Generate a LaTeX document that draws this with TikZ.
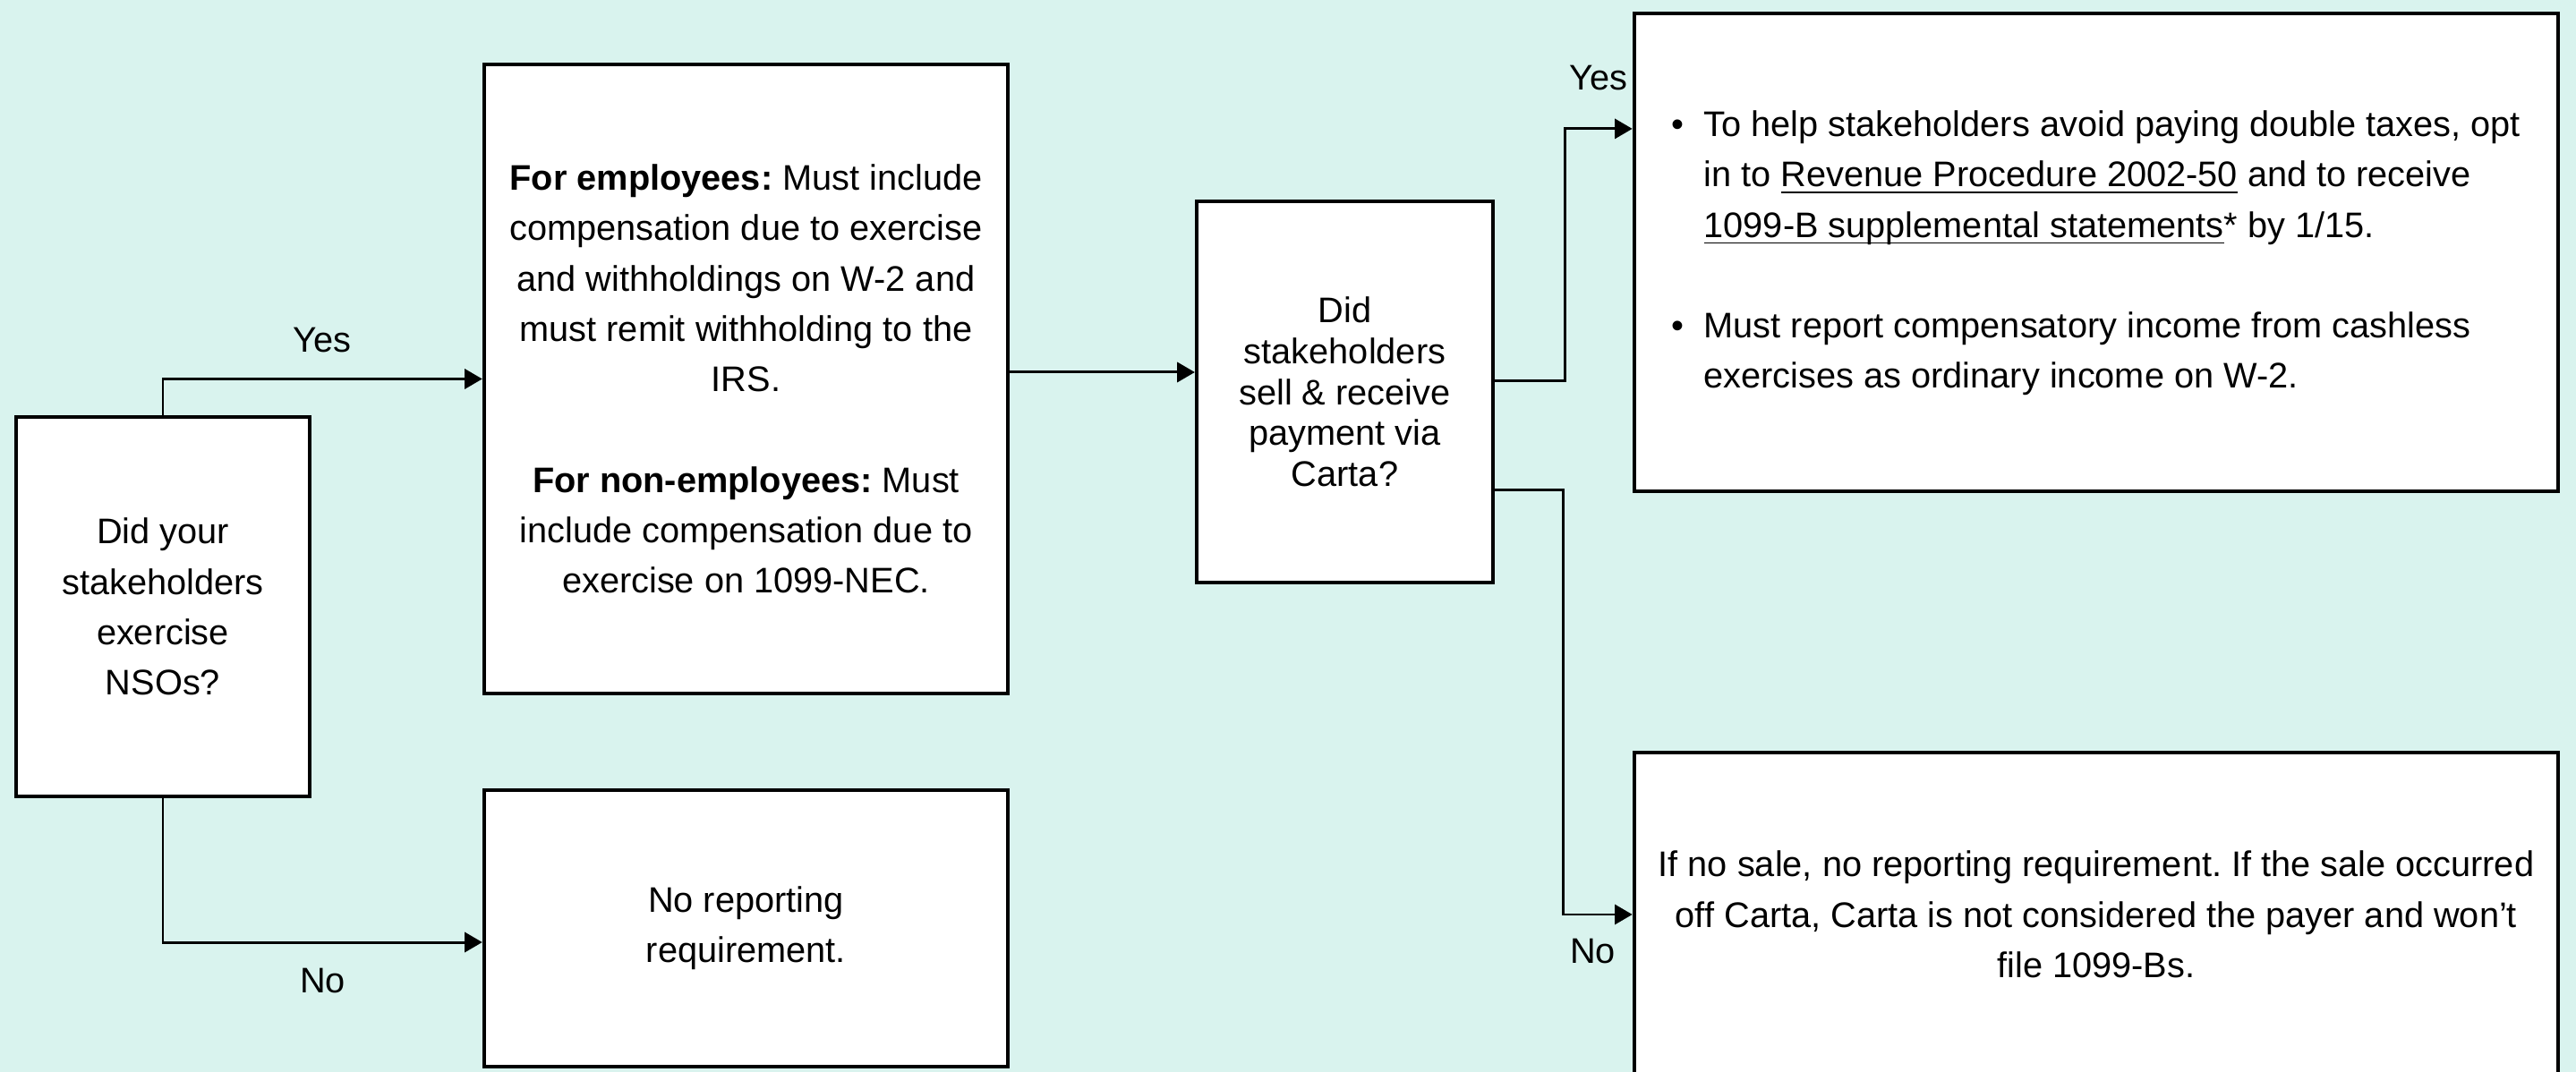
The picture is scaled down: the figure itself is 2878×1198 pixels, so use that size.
\documentclass[tikz,border=0pt]{standalone}
\usepackage{fontspec}
\setmainfont{Liberation Sans}
\usetikzlibrary{arrows.meta}
\definecolor{mint}{RGB}{217,243,238}
\newcommand{\ulink}[1]{\setbox0=\hbox{#1}\rlap{\rule[-2.1pt]{\wd0}{0.5pt}}\box0\relax}
\frenchspacing

\begin{document}
\begin{tikzpicture}[x=0.01cm, y=-0.01cm, font=\fontsize{11.3}{16}\selectfont,
  box/.style={draw, line width=1.15pt, fill=white, inner sep=0pt, align=center},
  link/.style={line width=0.85pt, -{Triangle[length=5.6pt,width=6.3pt]}},
  tag/.style={inner sep=0pt, text height=8pt, text depth=2.4pt}]
  \useasboundingbox (0,0) rectangle (2878,1198);
  \fill[mint] (0,0) rectangle (2878,1198);

  % First question
  \node[box, minimum width=3.28cm, minimum height=4.24cm] (nso) at (182,678)
    {Did your\\stakeholders\\exercise\\NSOs?};

  % Outcomes of the first question
  \node[box, minimum width=5.85cm, minimum height=7.03cm] (withhold) at (833.5,423.5)
    {\textbf{For employees:} Must include\\compensation due to exercise\\and withholdings on W-2 and\\must remit withholding to the\\IRS.\\[16pt]\textbf{For non-employees:} Must\\include compensation due to\\exercise on 1099-NEC.};
  \node[box, minimum width=5.85cm, minimum height=3.09cm] (noreport) at (833.5,1037.5)
    {No reporting\\requirement.};

  % Second question
  \node[box, minimum width=3.31cm, minimum height=4.26cm, font=\fontsize{11.3}{13}\selectfont] (sale) at (1502.5,438)
    {Did\\stakeholders\\sell \& receive\\payment via\\Carta?};

  % Outcomes of the second question
  \node[box, minimum width=10.32cm, minimum height=5.34cm] (opts) at (2342,282) {%
    \begin{tabular}{@{}l@{\hspace{6.2pt}}l@{}}
      \textbullet & To help stakeholders avoid paying double taxes, opt\\
      & in to \ulink{Revenue Procedure 2002-50} and to receive\\
      & \ulink{1099-B supplemental statements}* by 1/15.\\[16pt]
      \textbullet & Must report compensatory income from cashless\\
      & exercises as ordinary income on W-2.
    \end{tabular}};
  \node[box, minimum width=10.32cm, minimum height=3.62cm] (offcarta) at (2342,1022)
    {If no sale, no reporting requirement. If the sale occurred\\off Carta, Carta is not considered the payer and won't\\file 1099-Bs.};

  % Connectors
  \draw[link] (nso.north) |- (withhold.west) node[pos=0.75, above=5.6pt, tag] {Yes};
  \draw[link] (nso.south) |- ([yshift=-0.155cm]noreport.west) node[pos=0.75, below=7.5pt, tag] {No};
  \draw[link] ([yshift=0.075cm]withhold.east) -- ([yshift=0.075cm]withhold.east -| sale.west);
  \draw[link] ([yshift=0.12cm]sale.east) -- ++(78,0) |- ([yshift=1.38cm]opts.west)
    node[pos=0.75, above=9.6pt, tag] {Yes};
  \draw[link] ([yshift=-1.09cm]sale.east) -- ++(76,0) |- (offcarta.west)
    node[pos=0.75, below=7.2pt, xshift=-1.5pt, tag] {No};
\end{tikzpicture}
\end{document}
